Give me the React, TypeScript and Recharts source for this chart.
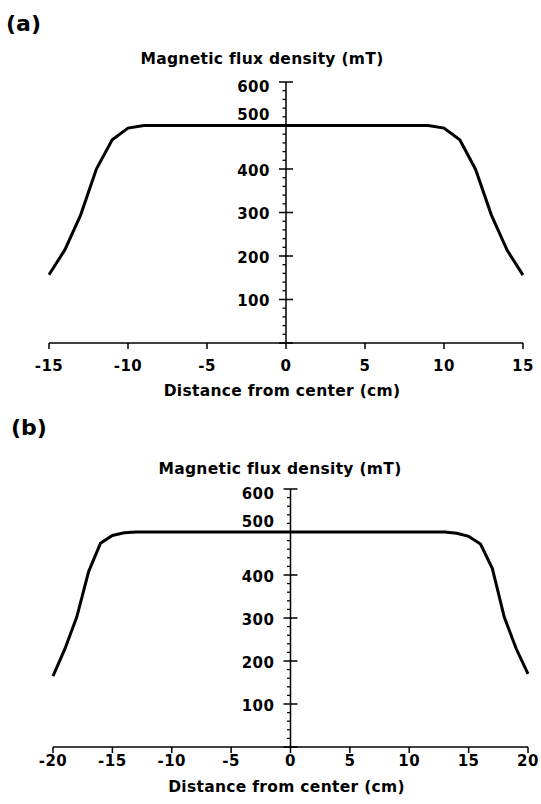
import React from 'react';
import { LineChart, Line, XAxis, YAxis } from 'recharts';

// ---- data ----
const distanceA = [-15, -14, -13, -12, -11, -10, -9, -8, -7, -6, -5, -4, -3, -2, -1, 0, 1, 2, 3, 4, 5, 6, 7, 8, 9, 10, 11, 12, 13, 14, 15];
const fluxA = [157, 214, 294, 400, 467, 494, 500, 500, 500, 500, 500, 500, 500, 500, 500, 500, 500, 500, 500, 500, 500, 500, 500, 500, 500, 494, 467, 399, 294, 213, 156];

const distanceB = [-20, -19, -18, -17, -16, -15, -14, -13, -12, -11, -10, -9, -8, -7, -6, -5, -4, -3, -2, -1, 0, 1, 2, 3, 4, 5, 6, 7, 8, 9, 10, 11, 12, 13, 14, 15, 16, 17, 18, 19, 20];
const fluxB = [165, 228, 302, 408, 474, 492, 498, 500, 500, 500, 500, 500, 500, 500, 500, 500, 500, 500, 500, 500, 500, 500, 500, 500, 500, 500, 500, 500, 500, 500, 500, 500, 500, 500, 497, 490, 472, 415, 302, 229, 170];

const xTicksA = [-15, -10, -5, 0, 5, 10, 15];
const xTicksB = [-20, -15, -10, -5, 0, 5, 10, 15, 20];
const yTicks = [0, 20, 40, 60, 80, 100, 120, 140, 160, 180, 200, 220, 240, 260, 280, 300, 320, 340, 360, 380, 400, 420, 440, 460, 480, 500, 520, 540, 560, 580, 600];

const yTitle = 'Magnetic flux density (mT)';
const xTitle = 'Distance from center (cm)';

const FONT = '"DejaVu Sans", sans-serif';

const YTick = (props: any) => {
  const { x, y, payload } = props;
  const v = payload.value as number;
  if (v % 100 !== 0) {
    return <line x1={x - 3.5} x2={x} y1={y} y2={y} stroke="#000" strokeWidth={1.3} />;
  }
  const dy = v === 500 ? -11 : v === 600 ? 4 : 1.3;
  return (
    <g>
      <line x1={x - 7} x2={x + 7} y1={y} y2={y} stroke="#000" strokeWidth={1.5} />
      {v !== 0 && (
        <text x={x - 16} y={y + dy + 5.5} textAnchor="end" fill="#000" fontFamily={FONT} fontWeight="bold" fontSize={15} letterSpacing={0.5}>
          {v}
        </text>
      )}
    </g>
  );
};

type PanelProps = {
  top: number;
  height: number;
  distance: number[];
  flux: number[];
  xTicks: number[];
  marginTop: number;
  marginLeft: number;
  marginRight: number;
  tickMargin: number;
  labelOffset: number;
  letter: string;
  letterLeft: number;
  letterTop: number;
  titleCenter: number;
  titleTop: number;
};

const Panel = (p: PanelProps) => {
  const data = p.distance.map((d, i) => ({ d, flux: p.flux[i] }));
  const W = 541;
  const xAxisH = 57;
  const domain: [number, number] = [p.xTicks[0], p.xTicks[p.xTicks.length - 1]];
  const plotW = W - p.marginLeft - p.marginRight;
  const axisX = p.marginLeft + plotW / 2;
  const yAxisW = 60;
  return (
    <div style={{ position: 'absolute', left: 0, top: p.top, width: W, height: p.height }}>
      <div style={{ position: 'absolute', left: p.letterLeft, top: p.letterTop, fontFamily: FONT, fontWeight: 'bold', fontSize: 22, lineHeight: '22px' }}>
        {p.letter}
      </div>
      <div style={{ position: 'absolute', left: p.titleCenter - 200, top: p.titleTop, width: 400, textAlign: 'center', fontFamily: FONT, fontWeight: 'bold', fontSize: 15.5, lineHeight: '15.5px', letterSpacing: 0.3, whiteSpace: 'nowrap' }}>
        {yTitle}
      </div>
      <div style={{ position: 'absolute', left: 0, top: 0 }}>
        <LineChart width={W} height={p.height} data={data} margin={{ top: p.marginTop, left: p.marginLeft, right: p.marginRight, bottom: 0 }}>
          <XAxis
            dataKey="d"
            type="number"
            domain={domain}
            ticks={p.xTicks}
            interval={0}
            height={xAxisH}
            tickSize={6}
            tickMargin={p.tickMargin}
            axisLine={{ stroke: '#000', strokeWidth: 1.5 }}
            tickLine={{ stroke: '#000', strokeWidth: 1.5 }}
            tick={{ fill: '#000', fontFamily: FONT, fontWeight: 'bold', fontSize: 15, letterSpacing: 0.5 }}
            label={{ value: xTitle, position: 'insideBottom', offset: p.labelOffset, dx: -4, fill: '#000', fontFamily: FONT, fontWeight: 'bold', fontSize: 15.5, letterSpacing: 0.3 }}
          />
          <YAxis hide type="number" domain={[0, 600]} />
          <Line type="linear" dataKey="flux" stroke="#000" strokeWidth={3} dot={false} activeDot={false} isAnimationActive={false} />
        </LineChart>
      </div>
      <div style={{ position: 'absolute', left: 0, top: 0 }}>
        <LineChart width={W} height={p.height} data={data} margin={{ top: p.marginTop, left: axisX - yAxisW, right: p.marginRight, bottom: xAxisH }}>
          <XAxis dataKey="d" type="number" domain={domain} hide />
          <YAxis
            type="number"
            domain={[0, 600]}
            ticks={yTicks}
            interval={0}
            width={yAxisW}
            tickSize={0}
            tickMargin={0}
            tickLine={false}
            axisLine={{ stroke: '#000', strokeWidth: 1.5 }}
            tick={<YTick />}
          />
          <Line type="linear" dataKey="flux" stroke="transparent" dot={false} activeDot={false} isAnimationActive={false} />
        </LineChart>
      </div>
    </div>
  );
};

export default function App() {
  return (
    <div style={{ position: 'absolute', left: 0, top: 0, width: 541, height: 804, background: '#fff', overflow: 'hidden' }}>
      <Panel
        top={0}
        height={400}
        distance={distanceA}
        flux={fluxA}
        xTicks={xTicksA}
        marginTop={82}
        marginLeft={49}
        marginRight={18}
        tickMargin={11}
        labelOffset={4}
        letter="(a)"
        letterLeft={6}
        letterTop={13}
        titleCenter={262}
        titleTop={52}
      />
      <Panel
        top={400}
        height={404}
        distance={distanceB}
        flux={fluxB}
        xTicks={xTicksB}
        marginTop={89}
        marginLeft={53}
        marginRight={13}
        tickMargin={2.5}
        labelOffset={12.5}
        letter="(b)"
        letterLeft={11}
        letterTop={17}
        titleCenter={280}
        titleTop={62}
      />
    </div>
  );
}
